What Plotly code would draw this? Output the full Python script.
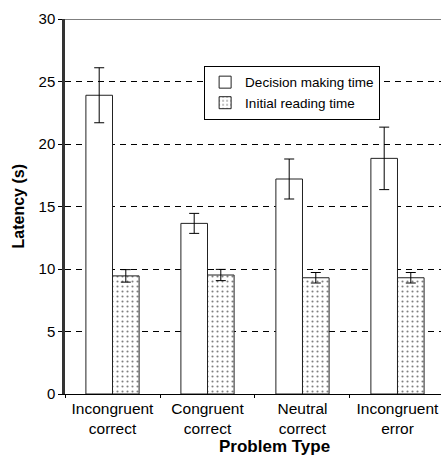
import plotly.graph_objects as go

categories = ["Incongruent<br>correct", "Congruent<br>correct", "Neutral<br>correct", "Incongruent<br>error"]
decision_time = [23.9, 13.65, 17.2, 18.85]
decision_err = [2.2, 0.8, 1.6, 2.5]
reading_time = [9.45, 9.52, 9.3, 9.3]
reading_err = [0.5, 0.45, 0.42, 0.42]
y_ticks = [0, 5, 10, 15, 20, 25, 30]

FONT = "Liberation Sans, Arial, Helvetica, sans-serif"

fig = go.Figure()
fig.add_trace(go.Bar(
    name="Decision making time", x=categories, y=decision_time,
    marker=dict(color="white", line=dict(color="#222", width=1)),
    error_y=dict(type="data", array=decision_err, color="black", thickness=1, width=5),
))
fig.add_trace(go.Bar(
    name="Initial reading time", x=categories, y=reading_time,
    marker=dict(color="white", line=dict(color="#222", width=1),
                pattern=dict(shape=".", size=5, solidity=0.14, fgcolor="black", bgcolor="white")),
    error_y=dict(type="data", array=reading_err, color="black", thickness=1, width=5),
))

fig.update_layout(
    width=441, height=456,
    margin=dict(l=65, r=0, t=19, b=62),
    paper_bgcolor="white", plot_bgcolor="white",
    barmode="group", bargap=0.44, bargroupgap=0,
    font=dict(family=FONT, color="black"),
    showlegend=True,
    legend=dict(x=0.37, y=0.875, xanchor="left", yanchor="top",
                bgcolor="white", bordercolor="black", borderwidth=1,
                font=dict(size=13.5, family=FONT), itemwidth=30,
                tracegroupgap=0),
    xaxis=dict(range=[-0.5, 3.458], showgrid=False, showline=True, linecolor="black", linewidth=1,
               ticks="outside", tickson="boundaries", ticklen=3, tickcolor="black",
               tickfont=dict(size=15.5, family=FONT), zeroline=False),
    yaxis=dict(range=[0, 30], tickvals=y_ticks, showgrid=True, gridcolor="black", gridwidth=1,
               griddash="6px,5px", showline=True, linecolor="#333", linewidth=2.5,
               ticks="outside", ticklen=4, tickcolor="black",
               tickfont=dict(size=15, family=FONT), zeroline=False),
    shapes=[dict(type="line", xref="paper", yref="y", x0=0, x1=1, y0=30, y1=30,
                 line=dict(color="black", width=1.2), layer="above")],
    annotations=[
        dict(text="<b>Problem Type</b>", xref="paper", yref="paper", x=0.556, y=-0.141,
             showarrow=False, font=dict(size=17, family=FONT), xanchor="center", yanchor="middle"),
        dict(text="<b>Latency (s)</b>", xref="paper", yref="paper", x=-0.125, y=0.5,
             showarrow=False, textangle=-90, font=dict(size=16, family=FONT),
             xanchor="center", yanchor="middle"),
    ],
)

fig.write_html("out.html", config={"displayModeBar": False},
               post_script="document.body.style.margin='0px';document.body.style.overflow='hidden';")
